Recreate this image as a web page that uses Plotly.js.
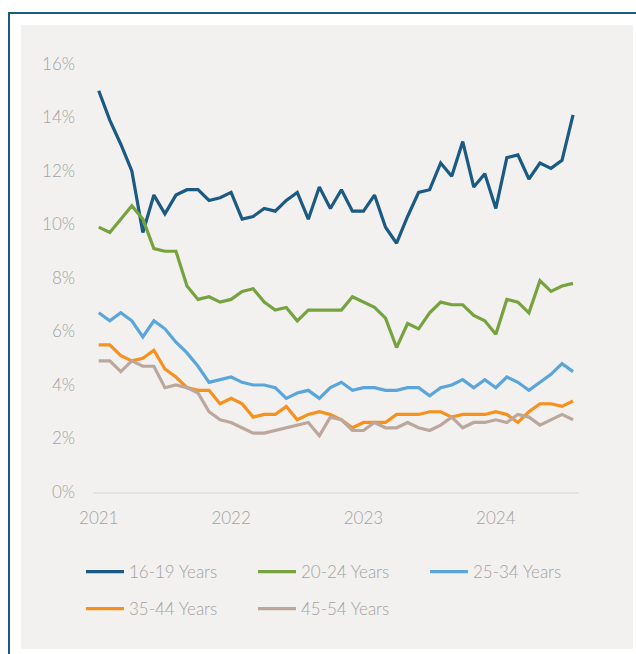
<!DOCTYPE html>
<html>
<head>
<meta charset="utf-8">
<script src="https://cdn.plot.ly/plotly-3.0.1.min.js"></script>
<style>
  html, body { margin: 0; padding: 0; background: #ffffff; width: 636px; height: 654px; overflow: hidden; }
  #frame { position: absolute; left: 8px; top: 12px; width: 700px; height: 700px;
           border-left: 2px solid #1b5a83; border-top: 2px solid #1b5a83; }
  #panel { position: absolute; left: 21px; top: 25px; width: 612px; height: 624px; background: #f2f1ef; }
  #chart { position: absolute; left: 0; top: 0; width: 636px; height: 654px; }
</style>
</head>
<body>
<div id="frame"></div>
<div id="panel"></div>
<div id="chart"></div>
<script>
const months = [
  'Jan 2021','Feb 2021','Mar 2021','Apr 2021','May 2021','Jun 2021','Jul 2021','Aug 2021','Sep 2021','Oct 2021','Nov 2021','Dec 2021',
  'Jan 2022','Feb 2022','Mar 2022','Apr 2022','May 2022','Jun 2022','Jul 2022','Aug 2022','Sep 2022','Oct 2022','Nov 2022','Dec 2022',
  'Jan 2023','Feb 2023','Mar 2023','Apr 2023','May 2023','Jun 2023','Jul 2023','Aug 2023','Sep 2023','Oct 2023','Nov 2023','Dec 2023',
  'Jan 2024','Feb 2024','Mar 2024','Apr 2024','May 2024','Jun 2024','Jul 2024','Aug 2024'
];
const yearTickVals = ['Jan 2021','Jan 2022','Jan 2023','Jan 2024'];
const yearTickText = ['2021','2022','2023','2024'];
const yTickVals = [0,2,4,6,8,10,12,14,16];
const yTickText = ['0%','2%','4%','6%','8%','10%','12%','14%','16%'];

const age16_19 = [15.0,13.9,13.0,12.0,9.7,11.1,10.4,11.1,11.3,11.3,10.9,11.0,
                  11.2,10.2,10.3,10.6,10.5,10.9,11.2,10.2,11.4,10.6,11.3,10.5,
                  10.5,11.1,9.9,9.3,10.3,11.2,11.3,12.3,11.8,13.1,11.4,11.9,
                  10.6,12.5,12.6,11.7,12.3,12.1,12.4,14.1];
const age20_24 = [9.9,9.7,10.2,10.7,10.2,9.1,9.0,9.0,7.7,7.2,7.3,7.1,
                  7.2,7.5,7.6,7.1,6.8,6.9,6.4,6.8,6.8,6.8,6.8,7.3,
                  7.1,6.9,6.5,5.4,6.3,6.1,6.7,7.1,7.0,7.0,6.6,6.4,
                  5.9,7.2,7.1,6.7,7.9,7.5,7.7,7.8];
const age25_34 = [6.7,6.4,6.7,6.4,5.8,6.4,6.1,5.6,5.2,4.7,4.1,4.2,
                  4.3,4.1,4.0,4.0,3.9,3.5,3.7,3.8,3.5,3.9,4.1,3.8,
                  3.9,3.9,3.8,3.8,3.9,3.9,3.6,3.9,4.0,4.2,3.9,4.2,
                  3.9,4.3,4.1,3.8,4.1,4.4,4.8,4.5];
const age35_44 = [5.5,5.5,5.1,4.9,5.0,5.3,4.6,4.3,3.9,3.8,3.8,3.3,
                  3.5,3.3,2.8,2.9,2.9,3.2,2.7,2.9,3.0,2.9,2.7,2.4,
                  2.6,2.6,2.6,2.9,2.9,2.9,3.0,3.0,2.8,2.9,2.9,2.9,
                  3.0,2.9,2.6,3.0,3.3,3.3,3.2,3.4];
const age45_54 = [4.9,4.9,4.5,4.9,4.7,4.7,3.9,4.0,3.9,3.7,3.0,2.7,
                  2.6,2.4,2.2,2.2,2.3,2.4,2.5,2.6,2.1,2.8,2.7,2.3,
                  2.3,2.6,2.4,2.4,2.6,2.4,2.3,2.5,2.8,2.4,2.6,2.6,
                  2.7,2.6,2.9,2.8,2.5,2.7,2.9,2.7];

const seriesNames = ['16-19 Years','20-24 Years','25-34 Years','35-44 Years','45-54 Years'];
const seriesColors = ['#1b5a83','#76a33f','#5aa5da','#f8901e','#bca79c'];
const seriesData = [age16_19, age20_24, age25_34, age35_44, age45_54];
const legendIds = ['legend','legend2','legend3','legend4','legend5'];

const traces = seriesData.map((vals, k) => ({
  type: 'scatter', mode: 'lines',
  x: months, y: vals, name: seriesNames[k],
  line: { color: seriesColors[k], width: 3.2 },
  legend: legendIds[k],
  hoverinfo: 'skip'
}));

const fontFamily = 'Lato, "Open Sans", sans-serif';
const textColor = '#a3a3a3';

// legend slot positions (left edge px, vertical centre px) in the 636x654 page
const legendLeft = [81, 253, 425, 81, 253];
const legendMid = [572, 572, 572, 609, 609];

const layout = {
  width: 636, height: 654,
  margin: { l: 93, r: 57, t: 64, b: 162 },
  paper_bgcolor: 'rgba(0,0,0,0)',
  plot_bgcolor: 'rgba(0,0,0,0)',
  showlegend: true,
  font: { family: fontFamily, size: 17, color: textColor, weight: 300 },
  xaxis: {
    type: 'category', categoryorder: 'array', categoryarray: months,
    range: [-0.52, 43.54],
    tickmode: 'array', tickvals: yearTickVals, ticktext: yearTickText,
    showgrid: false, zeroline: false,
    showline: true, linecolor: '#e4e3e1', linewidth: 1.5,
    ticks: '', ticklabelstandoff: 10,
    tickfont: { family: fontFamily, size: 17, color: textColor, weight: 300 },
    fixedrange: true
  },
  yaxis: {
    range: [0, 16], tickmode: 'array', tickvals: yTickVals, ticktext: yTickText,
    showgrid: false, zeroline: false, showline: false,
    ticks: '', ticklabelstandoff: 17,
    tickfont: { family: fontFamily, size: 17, color: textColor, weight: 300 },
    fixedrange: true
  }
};

legendIds.forEach((id, k) => {
  layout[id] = {
    orientation: 'h', xref: 'container', yref: 'container',
    x: legendLeft[k] / 636, xanchor: 'left',
    y: 1 - legendMid[k] / 654, yanchor: 'middle',
    bgcolor: 'rgba(0,0,0,0)', borderwidth: 0,
    font: { family: fontFamily, size: 17, color: textColor, weight: 300 },
    itemwidth: 38
  };
});

Plotly.newPlot('chart', traces, layout, { displayModeBar: false, staticPlot: true });
</script>
</body>
</html>
